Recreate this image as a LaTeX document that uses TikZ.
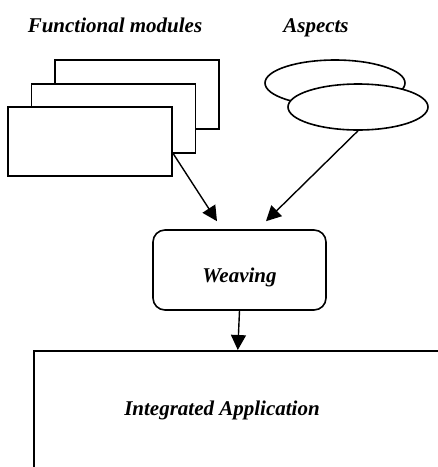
\documentclass[tikz,border=0pt]{standalone}
\usepackage{fontspec}
\setmainfont{Liberation Serif}
\usepackage{tikz}
\usetikzlibrary{shapes, positioning, arrows.meta}

\tikzset{
    module/.style={draw, fill=white, line width=1.6pt, minimum width=164, minimum height=69, inner sep=0},
    aspect/.style={draw, ellipse, fill=white, line width=1.6pt, minimum width=140, minimum height=46, inner sep=0},
    title/.style={font=\fontsize{21}{25}\selectfont\bfseries\itshape, inner sep=0},
    arr/.style={-{Triangle[length=15pt, width=15pt]}, line width=1.4pt}
}

\begin{document}
\begin{tikzpicture}[x=1pt, y=-1pt]
        \clip (0, 0) rectangle (438, 467);

        \node[title, anchor=base] (modtitle) at (115, 32) {Functional modules};
        \node[title, anchor=base] (asptitle) at (316, 32) {Aspects};

        \node[module] (mod3) at (137, 94.5) {};
        \node[module] (mod2) at (113.5, 118.5) {};
        \node[module] (mod1) at (90, 141.5) {};

        \node[aspect] (asp2) at (335, 83) {};
        \node[aspect] (asp1) at (358, 107) {};

        \node[draw, rounded corners=12pt, line width=1.6pt, minimum width=173, minimum height=80, title, text height=26pt, text depth=2pt] (weave) at (239.5, 270) {Weaving};

        \node[draw, line width=1.6pt, minimum width=440, minimum height=150, anchor=north west] (app) at (33, 350) {};
        \node[title, anchor=base] (apptitle) at (222, 415) {Integrated Application};

        \draw[arr] ([yshift=-11.5pt]mod1.east) -- ([xshift=-22.5pt, yshift=8pt]weave.north);
        \draw[arr] (asp1.south) -- ([xshift=26.5pt, yshift=8pt]weave.north);
        \draw[arr] (weave.south) -- ([xshift=-16pt]app.north);
    \end{tikzpicture}
\end{document}
